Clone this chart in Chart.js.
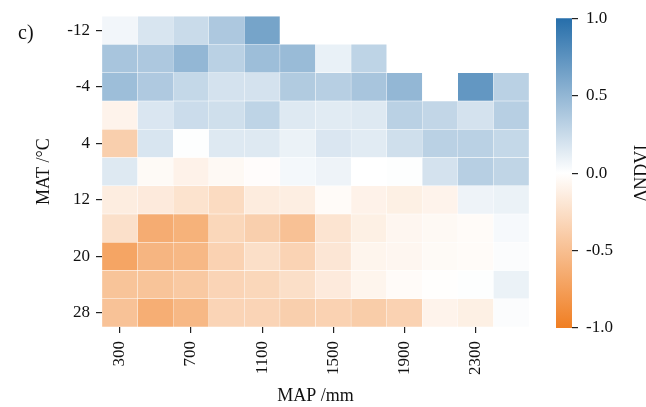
<!DOCTYPE html>
<html><head><meta charset="utf-8">
<script src="https://cdn.jsdelivr.net/npm/chart.js@4.4.0/dist/chart.umd.min.js"></script>
<style>
html,body{margin:0;padding:0;background:#fff;}
#wrap{position:relative;width:646px;height:407px;overflow:hidden;}
canvas{position:absolute;left:0;top:0;}
#lab{position:absolute;left:18px;top:21px;font:20px 'Liberation Serif',serif;color:#111;}
</style></head><body>
<div id="wrap"><canvas id="main" width="646" height="407"></canvas><canvas id="cbar" width="646" height="407"></canvas><div id="lab">c)</div></div>
<script>
// Categories
const mapLabels = ['300','500','700','900','1100','1300','1500','1700','1900','2100','2300','2500'];
const matRows = [-12,-8,-4,0,4,8,12,16,20,24,28];
const yTickValues = [-12,-4,4,12,20,28];
const xTickShown = ['300','700','1100','1500','1900','2300'];
const cbarTicks = [-1.0,-0.5,0.0,0.5,1.0];

// ΔNDVI per MAT row (°C), across MAP columns (mm)
const ndviMatM12 = [0.06,0.18,0.25,0.38,0.63,null,null,null,null,null,null,null];
const ndviMatM8  = [0.40,0.38,0.50,0.32,0.45,0.47,0.10,0.30,null,null,null,null];
const ndviMatM4  = [0.45,0.37,0.27,0.20,0.20,0.36,0.33,0.40,0.50,null,0.72,0.32];
const ndviMat0   = [-0.09,0.17,0.24,0.22,0.30,0.15,0.14,0.15,0.32,0.28,0.20,0.33];
const ndviMat4   = [-0.37,0.18,0.01,0.15,0.15,0.09,0.17,0.14,0.22,0.32,0.32,0.27];
const ndviMat8   = [0.15,-0.04,-0.10,-0.05,-0.02,0.05,0.08,0.00,0.01,0.20,0.33,0.29];
const ndviMat12  = [-0.14,-0.16,-0.22,-0.28,-0.15,-0.13,-0.03,-0.10,-0.12,-0.09,0.08,0.09];
const ndviMat16  = [-0.24,-0.64,-0.60,-0.31,-0.37,-0.48,-0.21,-0.12,-0.07,-0.05,-0.03,0.04];
const ndviMat20  = [-0.70,-0.57,-0.55,-0.35,-0.25,-0.34,-0.19,-0.08,-0.07,-0.04,-0.03,0.02];
const ndviMat24  = [-0.46,-0.46,-0.42,-0.33,-0.31,-0.25,-0.16,-0.08,-0.03,-0.01,0.01,0.09];
const ndviMat28  = [-0.47,-0.63,-0.55,-0.33,-0.33,-0.37,-0.35,-0.39,-0.35,-0.09,-0.12,0.02];

const rowSeries = [ndviMatM12,ndviMatM8,ndviMatM4,ndviMat0,ndviMat4,ndviMat8,ndviMat12,ndviMat16,ndviMat20,ndviMat24,ndviMat28];

const BLUE = [38,110,170], ORANGE = [240,126,34], WHITE = [255,255,255];
function cmap(v){
  const t = Math.min(1, Math.abs(v));
  const e = v >= 0 ? BLUE : ORANGE;
  const c = WHITE.map((w,i)=>Math.round(w + (e[i]-w)*t));
  return `rgb(${c[0]},${c[1]},${c[2]})`;
}

Chart.defaults.font.family = "'Liberation Serif', serif";
Chart.defaults.color = '#111';

const datasets = matRows.map((row, r) => ({
  label: 'MAT ' + row,
  data: rowSeries[r].map(v => v == null ? null : [row - 2, row + 2]),
  backgroundColor: rowSeries[r].map(v => v == null ? 'rgba(0,0,0,0)' : cmap(v)),
  borderColor: 'rgba(255,255,255,0.15)',
  borderWidth: 0.5,
  borderSkipped: false,
  barPercentage: 1.0,
  categoryPercentage: 1.0,
  grouped: false
}));

new Chart(document.getElementById('main'), {
  type: 'bar',
  data: { labels: mapLabels, datasets },
  options: {
    responsive: false, animation: false,
    layout: { padding: { left: 0, right: 117, top: 9, bottom: 0 } },
    plugins: { legend: { display: false }, tooltip: { enabled: false } },
    scales: {
      x: {
        type: 'category', offset: true,
        grid: { display: true, offset: false, drawOnChartArea: false, tickLength: 6, color: '#222', lineWidth: 1.2 },
        border: { display: false },
        afterBuildTicks: s => { s.ticks = s.ticks.filter(t => xTickShown.includes(mapLabels[t.value])); },
        afterFit: s => { s.height = 80; },
        ticks: { minRotation: 90, maxRotation: 90, padding: 8, font: { size: 17 }, autoSkip: false,
                 callback: function(v){ return this.getLabelForValue(v); } },
        title: { display: true, text: 'MAP /mm', font: { size: 18 }, padding: { top: 0, bottom: 0 } }
      },
      y: {
        type: 'linear', reverse: true, min: -14, max: 30,
        grid: { display: true, drawOnChartArea: false, tickLength: 6, color: '#222', lineWidth: 1.2 },
        border: { display: false },
        afterBuildTicks: s => { s.ticks = yTickValues.map(v => ({ value: v })); },
        afterFit: s => { s.width = 102; },
        ticks: { padding: 6, font: { size: 17 } },
        title: { display: true, text: 'MAT /°C', font: { size: 18 }, padding: { top: 33, bottom: 0 } }
      }
    }
  }
});

const cbTitle = {
  id: 'cbTitle',
  afterDraw(chart){
    const ctx = chart.ctx, a = chart.chartArea;
    ctx.save();
    ctx.translate(647, (a.top + a.bottom)/2);
    ctx.rotate(-Math.PI/2);
    ctx.font = "18px 'Liberation Serif', serif";
    ctx.fillStyle = '#111';
    ctx.textAlign = 'center';
    ctx.textBaseline = 'alphabetic';
    ctx.fillText('ΔNDVI', 0, 0);
    ctx.restore();
  }
};

new Chart(document.getElementById('cbar'), {
  type: 'bar',
  data: { labels: [''], datasets: [{
    data: [[cbarTicks[0], cbarTicks[cbarTicks.length-1]]],
    backgroundColor: (ctx) => {
      const ch = ctx.chart, a = ch.chartArea;
      if (!a) return 'rgba(0,0,0,0)';
      const g = ch.ctx.createLinearGradient(0, a.bottom, 0, a.top);
      g.addColorStop(0, cmap(-1)); g.addColorStop(0.5, cmap(0)); g.addColorStop(1, cmap(1));
      return g;
    },
    borderWidth: 0, barPercentage: 1, categoryPercentage: 1
  }]},
  options: {
    responsive: false, animation: false,
    layout: { padding: { left: 556, right: 0, top: 10, bottom: 79 } },
    plugins: { legend: { display: false }, tooltip: { enabled: false } },
    scales: {
      x: { display: false },
      y: {
        position: 'right', min: -1, max: 1,
        grid: { display: true, drawOnChartArea: false, tickLength: 6, color: '#222', lineWidth: 1.2 },
        border: { display: false },
        afterBuildTicks: s => { s.ticks = cbarTicks.map(v => ({ value: v })); },
        afterFit: s => { s.width = 74; },
        ticks: { padding: 8, font: { size: 17 }, callback: v => Number(v).toFixed(1) }
      }
    }
  },
  plugins: [cbTitle]
});
</script>
</body></html>
